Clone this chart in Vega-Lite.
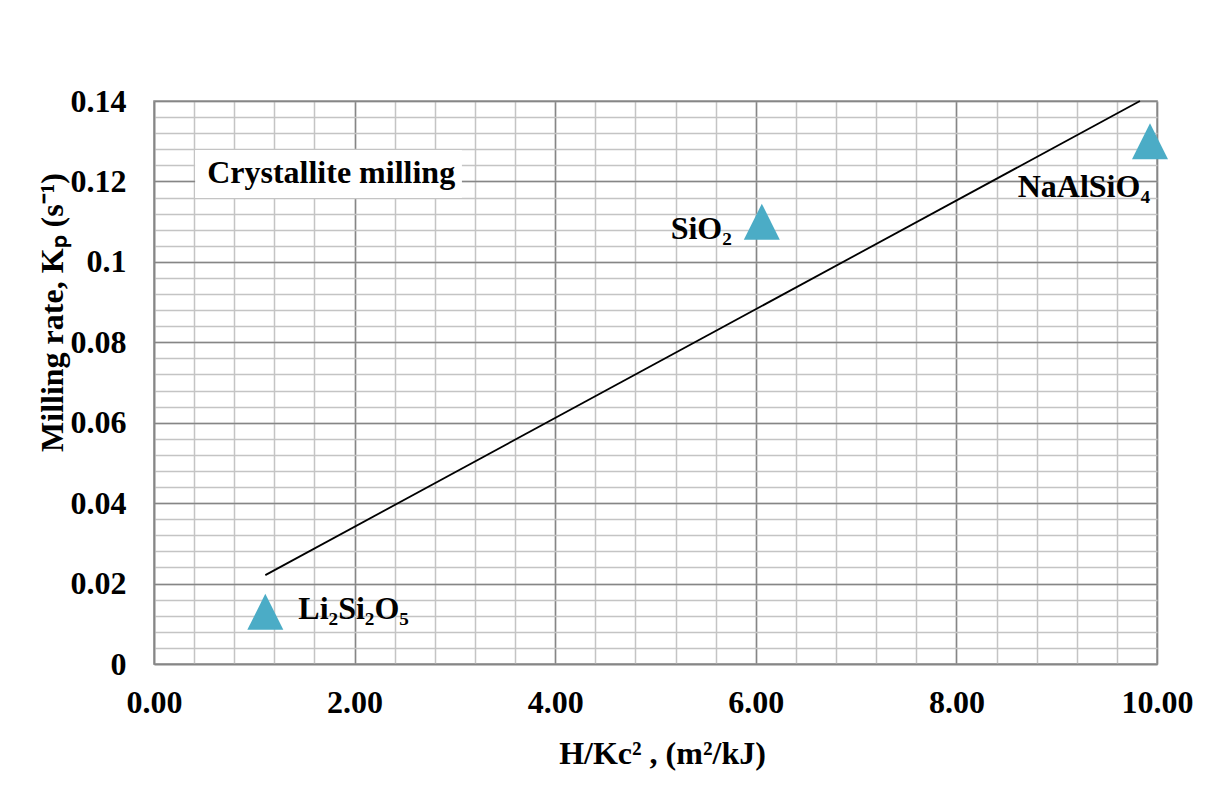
{
  "$schema": "https://vega.github.io/schema/vega-lite/v6.json",
  "width": 1003,
  "height": 563,
  "autosize": {"type": "none"},
  "padding": {"left": 154, "top": 101, "right": 54, "bottom": 128},
  "background": "white",
  "config": {
    "view": {"stroke": "#868686", "strokeWidth": 1.5},
    "font": "Liberation Serif"
  },
  "datasets": {
    "points": [
      {"x": 1.11, "y": 0.013, "label": "Li₂Si₂O₅", "pos": "right"},
      {"x": 6.06, "y": 0.110, "label": "SiO₂", "pos": "left"},
      {"x": 9.93, "y": 0.130, "label": "NaAlSiO₄", "pos": "below"}
    ],
    "trend": [
      {"x": 1.11, "y": 0.0221},
      {"x": 9.83, "y": 0.14}
    ],
    "note": [
      {"x0": 0.41, "x1": 3.07, "y0": 0.1159, "y1": 0.1278, "tx": 0.53, "ty": 0.1196, "text": "Crystallite milling"}
    ]
  },
  "layer": [
    {
      "data": {"name": "points"},
      "mark": {"type": "point", "opacity": 0},
      "encoding": {
        "x": {"field": "x", "type": "quantitative", "scale": {"domain": [0, 10], "nice": false, "zero": false},
          "axis": {"orient": "bottom", "values": [0,0.4,0.8,1.2,1.6,2,2.4,2.8,3.2,3.6,4,4.4,4.8,5.2,5.6,6,6.4,6.8,7.2,7.6,8,8.4,8.8,9.2,9.6,10],
            "grid": true, "gridColor": "#c4c4c4", "gridWidth": 1.5, "labels": false, "ticks": false, "domain": false, "title": null}},
        "y": {"field": "y", "type": "quantitative", "scale": {"domain": [0, 0.14], "nice": false, "zero": false},
          "axis": {"orient": "left", "values": [0,0.004,0.008,0.012,0.016,0.02,0.024,0.028,0.032,0.036,0.04,0.044,0.048,0.052,0.056,0.06,0.064,0.068,0.072,0.076,0.08,0.084,0.088,0.092,0.096,0.1,0.104,0.108,0.112,0.116,0.12,0.124,0.128,0.132,0.136,0.14],
            "grid": true, "gridColor": "#c4c4c4", "gridWidth": 1.5, "labels": false, "ticks": false, "domain": false, "title": null}}
      }
    },
    {
      "data": {"name": "points"},
      "mark": {"type": "point", "opacity": 0},
      "encoding": {
        "x": {"field": "x", "type": "quantitative", "scale": {"domain": [0, 10], "nice": false, "zero": false},
          "axis": {"orient": "bottom", "values": [0, 2, 4, 6, 8, 10], "format": ".2f",
            "grid": true, "gridColor": "#868686", "gridWidth": 1.5,
            "domain": true, "domainColor": "#868686", "domainWidth": 1.5,
            "ticks": false, "tickSize": 0,
            "labelFont": "Liberation Serif", "labelFontWeight": "bold", "labelFontSize": 32, "labelColor": "black",
            "labelBaseline": "alphabetic", "labelPadding": 48, "labelFlush": false, "labelOverlap": false, "labelBound": false,
            "title": "H/Kc² , (m²/kJ)",
            "titleFont": "Liberation Serif", "titleFontWeight": "bold", "titleFontSize": 32, "titleColor": "black",
            "titleX": 508, "titleY": 99, "titleAlign": "center", "titleBaseline": "alphabetic"}},
        "y": {"field": "y", "type": "quantitative", "scale": {"domain": [0, 0.14], "nice": false, "zero": false},
          "axis": {"orient": "left", "values": [0, 0.02, 0.04, 0.06, 0.08, 0.1, 0.12, 0.14], "format": "~g",
            "grid": true, "gridColor": "#868686", "gridWidth": 1.5,
            "domain": true, "domainColor": "#868686", "domainWidth": 1.5,
            "ticks": false, "tickSize": 0,
            "labelFont": "Liberation Serif", "labelFontWeight": "bold", "labelFontSize": 32, "labelColor": "black",
            "labelBaseline": "middle", "labelPadding": 28, "labelOverlap": false, "labelBound": false, "labelFlush": false,
            "title": "Milling rate, Kₚ (s⁻¹)",
            "titleFont": "Liberation Serif", "titleFontWeight": "bold", "titleFontSize": 32, "titleColor": "black",
            "titleX": -92, "titleY": 211, "titleAngle": -90, "titleAlign": "center", "titleBaseline": "alphabetic"}}
      }
    },
    {
      "data": {"name": "note"},
      "mark": {"type": "rect", "fill": "white", "stroke": null},
      "encoding": {
        "x": {"field": "x0", "type": "quantitative", "scale": {"domain": [0, 10], "nice": false, "zero": false}, "axis": null},
        "x2": {"field": "x1"},
        "y": {"field": "y0", "type": "quantitative", "scale": {"domain": [0, 0.14], "nice": false, "zero": false}, "axis": null},
        "y2": {"field": "y1"}
      }
    },
    {
      "data": {"name": "note"},
      "mark": {"type": "text", "align": "left", "baseline": "alphabetic", "font": "Liberation Serif", "fontWeight": "bold", "fontSize": 32, "color": "black"},
      "encoding": {
        "x": {"field": "tx", "type": "quantitative", "scale": {"domain": [0, 10], "nice": false, "zero": false}, "axis": null},
        "y": {"field": "ty", "type": "quantitative", "scale": {"domain": [0, 0.14], "nice": false, "zero": false}, "axis": null},
        "text": {"field": "text"}
      }
    },
    {
      "data": {"name": "trend"},
      "mark": {"type": "line", "color": "black", "strokeWidth": 1.8},
      "encoding": {
        "x": {"field": "x", "type": "quantitative", "scale": {"domain": [0, 10], "nice": false, "zero": false}, "axis": null},
        "y": {"field": "y", "type": "quantitative", "scale": {"domain": [0, 0.14], "nice": false, "zero": false}, "axis": null}
      }
    },
    {
      "data": {"name": "points"},
      "mark": {"type": "point", "shape": "M-1,1L1,1L0,-1Z", "size": 1296, "filled": true, "fill": "#4bacc6", "opacity": 1, "strokeWidth": 0},
      "encoding": {
        "x": {"field": "x", "type": "quantitative", "scale": {"domain": [0, 10], "nice": false, "zero": false}, "axis": null},
        "y": {"field": "y", "type": "quantitative", "scale": {"domain": [0, 0.14], "nice": false, "zero": false}, "axis": null}
      }
    },
    {
      "data": {"name": "points"},
      "transform": [{"filter": "datum.pos === 'right'"}],
      "mark": {"type": "text", "align": "left", "baseline": "alphabetic", "dx": 33, "dy": 7, "font": "Liberation Serif", "fontWeight": "bold", "fontSize": 32, "color": "black"},
      "encoding": {
        "x": {"field": "x", "type": "quantitative", "scale": {"domain": [0, 10], "nice": false, "zero": false}, "axis": null},
        "y": {"field": "y", "type": "quantitative", "scale": {"domain": [0, 0.14], "nice": false, "zero": false}, "axis": null},
        "text": {"field": "label"}
      }
    },
    {
      "data": {"name": "points"},
      "transform": [{"filter": "datum.pos === 'left'"}],
      "mark": {"type": "text", "align": "right", "baseline": "alphabetic", "dx": -30, "dy": 17, "font": "Liberation Serif", "fontWeight": "bold", "fontSize": 32, "color": "black"},
      "encoding": {
        "x": {"field": "x", "type": "quantitative", "scale": {"domain": [0, 10], "nice": false, "zero": false}, "axis": null},
        "y": {"field": "y", "type": "quantitative", "scale": {"domain": [0, 0.14], "nice": false, "zero": false}, "axis": null},
        "text": {"field": "label"}
      }
    },
    {
      "data": {"name": "points"},
      "transform": [{"filter": "datum.pos === 'below'"}],
      "mark": {"type": "text", "align": "right", "baseline": "alphabetic", "dx": 0, "dy": 56, "font": "Liberation Serif", "fontWeight": "bold", "fontSize": 32, "color": "black"},
      "encoding": {
        "x": {"field": "x", "type": "quantitative", "scale": {"domain": [0, 10], "nice": false, "zero": false}, "axis": null},
        "y": {"field": "y", "type": "quantitative", "scale": {"domain": [0, 0.14], "nice": false, "zero": false}, "axis": null},
        "text": {"field": "label"}
      }
    }
  ],
  "resolve": {"axis": {"x": "independent", "y": "independent"}}
}
